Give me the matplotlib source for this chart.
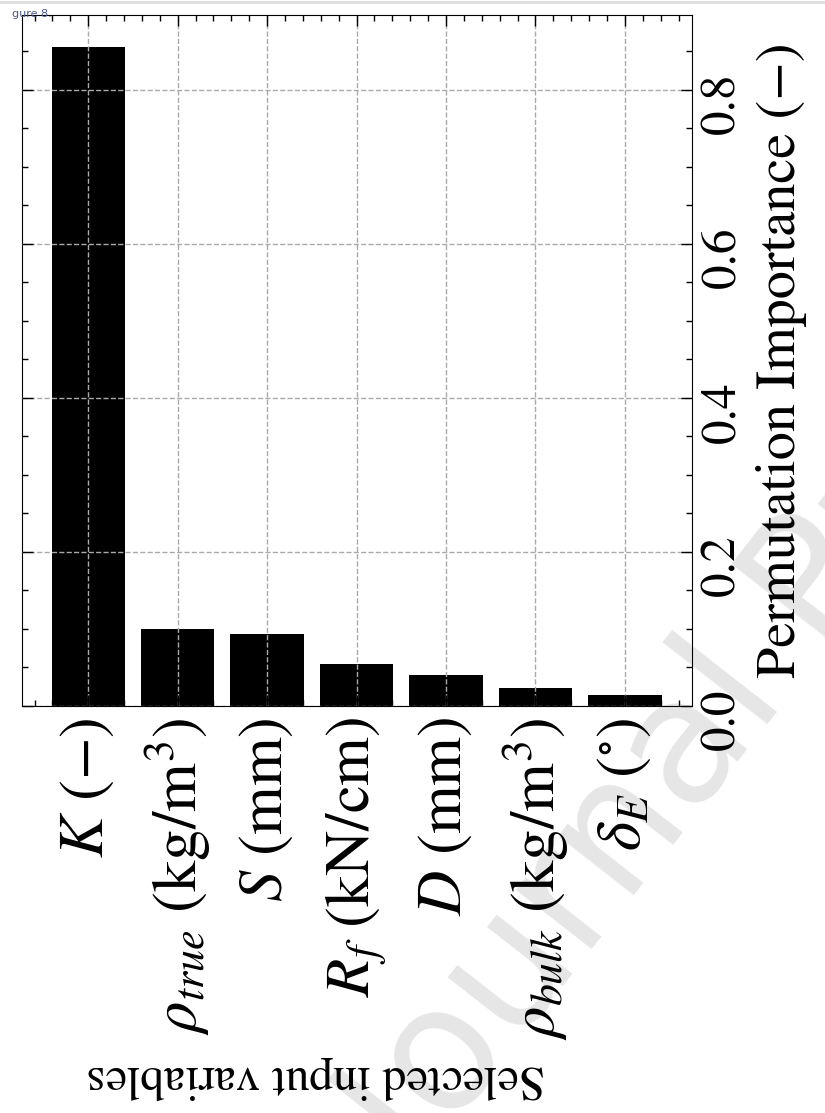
import matplotlib
matplotlib.use('Agg')
import matplotlib.pyplot as plt
from matplotlib.ticker import MultipleLocator
from matplotlib.lines import Line2D

plt.rcParams['font.family'] = ['STIXGeneral', 'DejaVu Serif']
plt.rcParams['mathtext.fontset'] = 'stix'

# permutation importance per input variable
variables = [r'$K$ (−)', r'$\rho_{true}$ (kg/m$^3$)', r'$S$ (mm)', r'$R_f$ (kN/cm)',
             r'$D$ (mm)', r'$\rho_{bulk}$ (kg/m$^3$)', r'$\delta_E$ ($^{\circ}$)']
importance = [0.856, 0.100, 0.094, 0.055, 0.040, 0.024, 0.014]
yticks = [0.0, 0.2, 0.4, 0.6, 0.8]

fig = plt.figure(figsize=(8.25, 11.13), dpi=100)
ax = fig.add_axes([22/825, 1-706/1113, (692-22)/825, (706-15)/1113])
ax.patch.set_alpha(0)

x = range(len(variables))
ax.bar(x, importance, width=0.82, color='black', zorder=2)

ax.set_xlim(-0.74, 6.75)
ax.set_ylim(0, 0.897)
ax.set_yticks(yticks)
ax.set_yticklabels(['%.1f' % v for v in yticks])
ax.yaxis.set_minor_locator(MultipleLocator(0.05))
ax.set_xticks(list(x))
ax.set_xticklabels(variables, rotation=90, fontsize=45)
ax.xaxis.set_minor_locator(MultipleLocator(0.2))

ax.tick_params(axis='both', which='both', direction='in', top=True, bottom=True,
               left=True, right=True)
ax.tick_params(axis='both', which='major', length=8, width=1)
ax.tick_params(axis='both', which='minor', length=4.5, width=1)
ax.tick_params(axis='y', labelleft=False, labelright=True, labelrotation=90,
               labelsize=35.5, pad=6)
ax.tick_params(axis='x', pad=8)

ax.grid(True, which='major', linestyle='--', color='#aaaaaa', linewidth=1, zorder=3)
ax.set_axisbelow(False)

ax.yaxis.set_label_position('right')
ax.set_ylabel('Permutation Importance (−)', fontsize=40.5, rotation=90, labelpad=8)

fig.text(316/825, 1-1078/1113, 'Selected input variables', rotation=180,
         ha='center', va='center', fontsize=34.5)

# watermark and page bits
fig.text(422/825, 1-1179/1113, 'Journal Pre-proof', rotation=52, rotation_mode='anchor',
         ha='left', va='baseline', fontsize=125, color='#e6e6e6', zorder=-1,
         family='DejaVu Sans')
fig.text(12/825, 1-17/1113, 'gure 8.', fontsize=8, color='#4a5a8a', family='DejaVu Sans')
fig.add_artist(Line2D([0, 1], [1-1.5/1113, 1-1.5/1113], color='#dddddd', linewidth=2))

fig.savefig('out.png', dpi=100)
